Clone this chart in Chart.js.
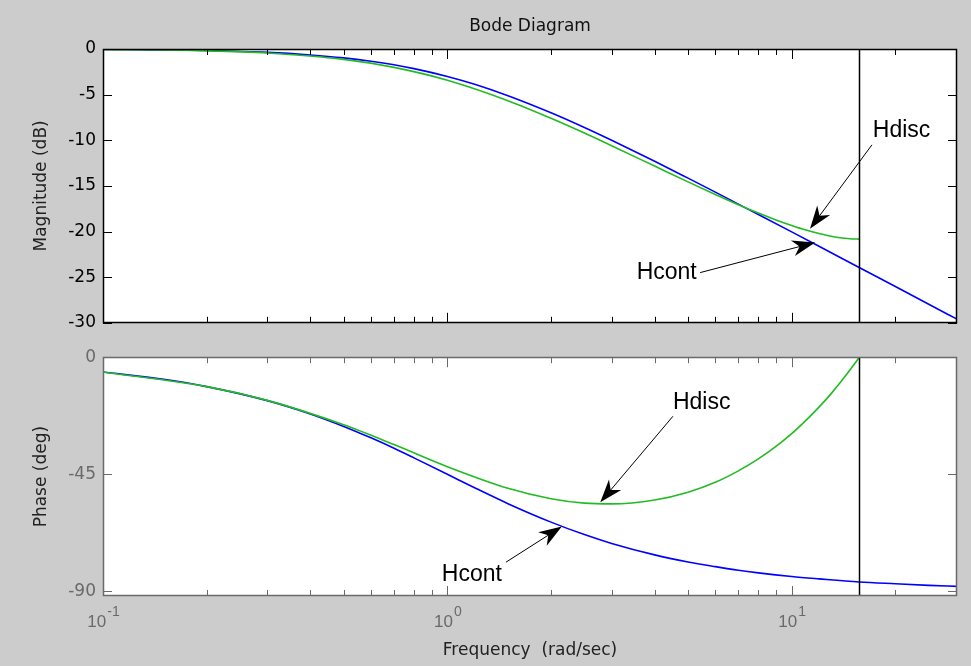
<!DOCTYPE html>
<html>
<head>
<meta charset="utf-8">
<script src="https://cdn.jsdelivr.net/npm/chart.js@4.4.0/dist/chart.umd.min.js"></script>
<style>
  html, body { margin: 0; padding: 0; background: #cccccc; }
  #wrap { position: relative; width: 971px; height: 666px; overflow: hidden; }
  #magChart { position: absolute; left: 0; top: 0; }
  #phaseChart { position: absolute; left: 0; top: 340px; }
</style>
</head>
<body>
<div id="wrap">
  <canvas id="magChart" width="971" height="340"></canvas>
  <canvas id="phaseChart" width="971" height="326"></canvas>
</div>
<script>
// frequencies (rad/sec)
const freqCont = [0.1, 0.15, 0.2, 0.3, 0.4, 0.5, 0.6, 0.7, 0.8, 1, 1.2, 1.5, 2, 2.5, 3, 4, 5, 6, 7, 8, 10, 12, 15.7, 20, 25, 30.2];
const magCont = [-0.04, -0.10, -0.17, -0.37, -0.65, -0.97, -1.34, -1.73, -2.15, -3.01, -3.87, -5.12, -6.99, -8.60, -10.0, -12.30, -14.15, -15.68, -17.0, -18.13, -20.04, -21.61, -23.94, -26.03, -27.96, -29.60];
const phaseCont = [-5.7, -8.5, -11.3, -16.7, -21.8, -26.6, -31.0, -35.0, -38.7, -45.0, -50.2, -56.3, -63.4, -68.2, -71.6, -76.0, -78.7, -80.5, -81.9, -82.9, -84.3, -85.2, -86.4, -87.1, -87.7, -88.1];

const freqDisc = [0.1, 0.2, 0.3, 0.5, 0.7, 1, 1.5, 2, 2.5, 3, 4, 5, 6, 7, 8, 9, 10, 11, 12, 13, 14, 15, 15.71];
const magDisc = [-0.05, -0.20, -0.44, -1.14, -2.01, -3.42, -5.66, -7.59, -9.21, -10.60, -12.83, -14.56, -15.94, -17.06, -17.98, -18.73, -19.34, -19.84, -20.22, -20.51, -20.70, -20.81, -20.83];
const phaseDisc = [-5.7, -11.3, -16.6, -26.0, -33.6, -42.1, -50.4, -54.4, -56.1, -56.4, -54.9, -51.9, -48.1, -43.7, -39.1, -34.3, -29.4, -24.3, -19.2, -14.1, -8.9, -3.7, 0];

const nyquist = 15.71;

// axis ticks
const xDecades = [0.1, 1, 10];
const xExponents = ["-1", "0", "1"];
const xMinor = [0.2, 0.3, 0.4, 0.5, 0.6, 0.7, 0.8, 0.9, 2, 3, 4, 5, 6, 7, 8, 9, 20, 30];
const magTicks = [-30, -25, -20, -15, -10, -5, 0];
const phaseTicks = [-90, -45, 0];

// annotations: label position and arrow (data coordinates)
const magNotes = [
  { text: "Hdisc", at: [17.2, -9.0], align: "left", from: [17.1, -10.5], to: [11.3, -19.7] },
  { text: "Hcont", at: [5.3, -24.5], align: "right", from: [5.42, -24.5], to: [11.7, -21.2] }
];
const phaseNotes = [
  { text: "Hdisc", at: [4.52, -17.5], align: "left", from: [4.52, -22.7], to: [2.78, -55.8] },
  { text: "Hcont", at: [1.44, -83.6], align: "right", from: [1.48, -78.8], to: [2.15, -65.1] }
];

const FONT = "'DejaVu Sans', Verdana, sans-serif";
const NOTE_FONT = "'Liberation Sans', Arial, sans-serif";
const BLUE = "#0000ff";
const GREEN = "#22bb22";

function pts(xs, ys) {
  return xs.map((x, i) => ({ x: x, y: ys[i] }));
}

const framePlugin = {
  id: "frame",
  beforeDraw(chart) {
    const { ctx, chartArea: a } = chart;
    ctx.save();
    ctx.fillStyle = "#ffffff";
    ctx.fillRect(a.left, a.top, a.right - a.left, a.bottom - a.top);
    ctx.restore();
  },
  afterDatasetsDraw(chart) {
    const { ctx, chartArea: a, scales } = chart;
    const x = Math.round(scales.x.getPixelForValue(nyquist)) + 0.5;
    ctx.save();
    ctx.strokeStyle = "#000";
    ctx.lineWidth = 1.5;
    ctx.beginPath();
    ctx.moveTo(x, a.top);
    ctx.lineTo(x, a.bottom);
    ctx.stroke();
    ctx.restore();
  },
  afterDraw(chart, args, opts) {
    const { ctx, chartArea: a, scales } = chart;
    ctx.save();
    ctx.strokeStyle = opts.color;
    ctx.lineWidth = 1;
    ctx.beginPath();
    xMinor.concat(xDecades).forEach(v => {
      const x = Math.round(scales.x.getPixelForValue(v)) + 0.5;
      const len = xDecades.includes(v) ? 10 : 6;
      ctx.moveTo(x, a.bottom); ctx.lineTo(x, a.bottom - len);
      ctx.moveTo(x, a.top); ctx.lineTo(x, a.top + len);
    });
    scales.y.ticks.forEach(t => {
      const y = Math.round(scales.y.getPixelForValue(t.value)) + 0.5;
      ctx.moveTo(a.left, y); ctx.lineTo(a.left + 9, y);
      ctx.moveTo(a.right, y); ctx.lineTo(a.right - 9, y);
    });
    ctx.stroke();
    ctx.lineWidth = 1.5;
    ctx.strokeRect(Math.round(a.left) + 0.5, Math.round(a.top) + 0.5,
      Math.round(a.right - a.left) - 1, Math.round(a.bottom - a.top) - 1);

    // decade labels 10^n
    if (opts.xLabels) {
      ctx.fillStyle = opts.labelColor;
      ctx.textBaseline = "alphabetic";
      xDecades.forEach((v, i) => {
        const x = scales.x.getPixelForValue(v);
        ctx.font = "17px " + NOTE_FONT;
        const wBase = ctx.measureText("10").width;
        ctx.font = "14px " + NOTE_FONT;
        const wExp = ctx.measureText(xExponents[i]).width;
        const left = x - (wBase + wExp) / 2;
        ctx.font = "17px " + NOTE_FONT;
        ctx.textAlign = "left";
        ctx.fillText("10", left, a.bottom + 31);
        ctx.font = "14px " + NOTE_FONT;
        ctx.fillText(xExponents[i], left + wBase + 1, a.bottom + 20);
      });
    }

    // annotations
    (opts.notes || []).forEach(n => {
      const tx = scales.x.getPixelForValue(n.at[0]);
      const ty = scales.y.getPixelForValue(n.at[1]);
      ctx.fillStyle = "#000";
      ctx.font = "23px " + NOTE_FONT;
      ctx.textAlign = n.align;
      ctx.textBaseline = "middle";
      ctx.fillText(n.text, tx, ty);

      const x0 = scales.x.getPixelForValue(n.from[0]);
      const y0 = scales.y.getPixelForValue(n.from[1]);
      const x1 = scales.x.getPixelForValue(n.to[0]);
      const y1 = scales.y.getPixelForValue(n.to[1]);
      const ang = Math.atan2(y1 - y0, x1 - x0);
      const L = 23, W = 8;
      ctx.strokeStyle = "#000";
      ctx.lineWidth = 1;
      ctx.beginPath();
      ctx.moveTo(x0, y0);
      ctx.lineTo(x1 - Math.cos(ang) * L * 0.6, y1 - Math.sin(ang) * L * 0.6);
      ctx.stroke();
      const bx = x1 - Math.cos(ang) * L, by = y1 - Math.sin(ang) * L;
      const nx = -Math.sin(ang), ny = Math.cos(ang);
      ctx.beginPath();
      ctx.moveTo(x1, y1);
      ctx.lineTo(bx + nx * W, by + ny * W);
      ctx.lineTo(x1 - Math.cos(ang) * L * 0.7, y1 - Math.sin(ang) * L * 0.7);
      ctx.lineTo(bx - nx * W, by - ny * W);
      ctx.closePath();
      ctx.fill();
    });
    ctx.restore();
  }
};

function xAxis(withTitle) {
  return {
    type: "logarithmic",
    min: 0.1,
    max: 30.2,
    afterFit(s) { s.height = withTitle ? 70 : 0; },
    ticks: { display: false },
    grid: { display: false },
    border: { display: false },
    title: {
      display: withTitle,
      text: "Frequency  (rad/sec)",
      color: "#222",
      font: { family: FONT, size: 17 },
      padding: { top: 0, bottom: 5 }
    }
  };
}

function yAxis(min, max, ticks, label, color) {
  return {
    type: "linear",
    min: min,
    max: max,
    afterFit(s) { s.width = 103; },
    afterBuildTicks(s) { s.ticks = ticks.map(v => ({ value: v })); },
    ticks: {
      autoSkip: false,
      padding: 7,
      color: color,
      font: { family: FONT, size: 17 }
    },
    grid: { display: false, drawTicks: false },
    border: { display: false },
    title: {
      display: true,
      text: label,
      color: "#222",
      font: { family: FONT, size: 17 },
      padding: { top: 31, bottom: 0 }
    }
  };
}

function lineSet(xs, ys, color) {
  return {
    data: pts(xs, ys),
    borderColor: color,
    borderWidth: 1.6,
    pointRadius: 0,
    fill: false,
    cubicInterpolationMode: "monotone"
  };
}

new Chart(document.getElementById("magChart"), {
  type: "line",
  data: {
    datasets: [
      lineSet(freqDisc, magDisc, GREEN),
      lineSet(freqCont, magCont, BLUE)
    ]
  },
  options: {
    responsive: false,
    animation: false,
    layout: { padding: { left: 0, right: 14, top: 0, bottom: 12 } },
    scales: {
      x: xAxis(false),
      y: yAxis(-30, 0, magTicks, "Magnitude (dB)", "#000")
    },
    plugins: {
      legend: { display: false },
      tooltip: { enabled: false },
      title: {
        display: true,
        fullSize: false,
        text: "Bode Diagram",
        color: "#111",
        font: { family: FONT, size: 17, weight: "normal" },
        padding: { top: 16, bottom: 12.6 }
      },
      frame: { color: "#000", notes: magNotes, xLabels: false }
    }
  },
  plugins: [framePlugin]
});

new Chart(document.getElementById("phaseChart"), {
  type: "line",
  data: {
    datasets: [
      lineSet(freqDisc, phaseDisc, GREEN),
      lineSet(freqCont, phaseCont, BLUE)
    ]
  },
  options: {
    responsive: false,
    animation: false,
    layout: { padding: { left: 0, right: 14, top: 9, bottom: 0 } },
    scales: {
      x: xAxis(true),
      y: yAxis(-91.8, 0, phaseTicks, "Phase (deg)", "#6a6a6a")
    },
    plugins: {
      legend: { display: false },
      tooltip: { enabled: false },
      frame: { color: "#6a6a6a", labelColor: "#6a6a6a", notes: phaseNotes, xLabels: true }
    }
  },
  plugins: [framePlugin]
});
</script>
</body>
</html>
